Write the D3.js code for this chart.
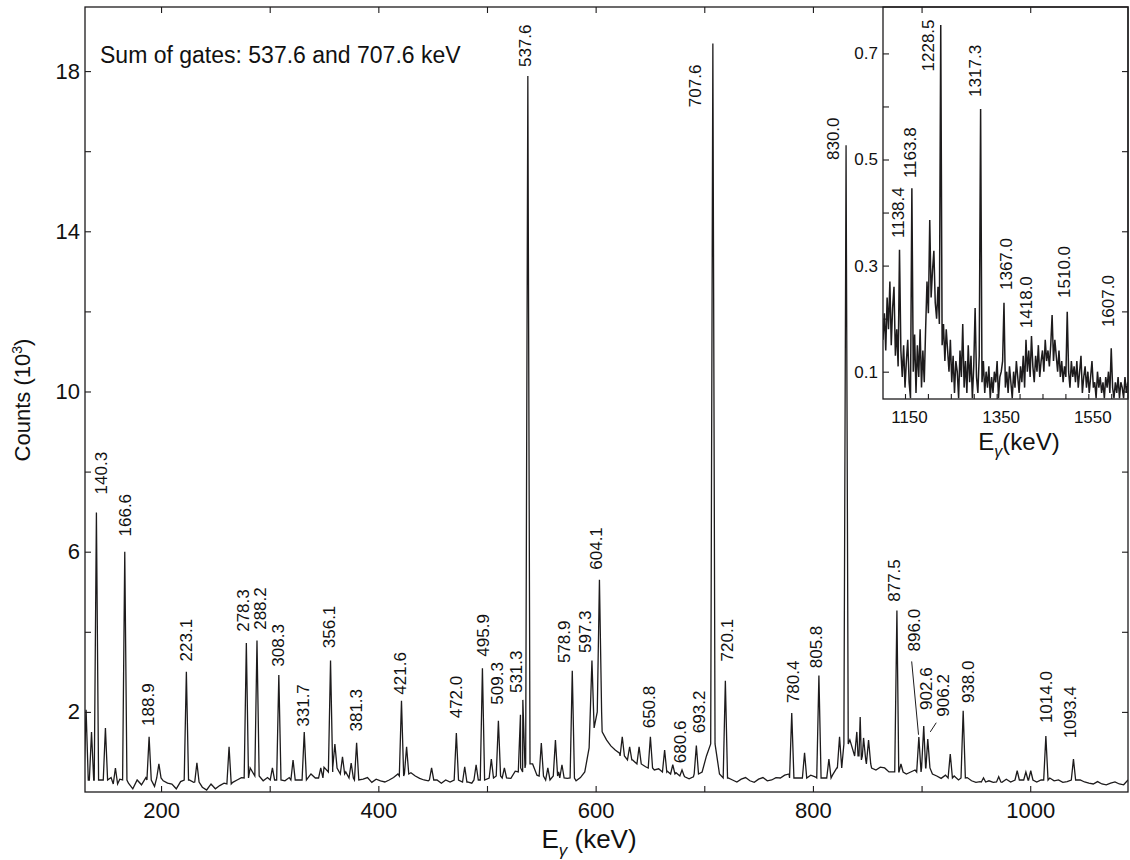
<!DOCTYPE html>
<html lang="en">
<head>
  <meta charset="utf-8">
  <title>Sum of gates spectrum</title>
  <script src="https://d3js.org/d3.v7.min.js"></script>
  <style>
    body { margin: 0; background: #fff; }
    svg text { font-family: "Liberation Sans", Arial, sans-serif; fill: #111; }
  </style>
</head>
<body>
<div id="chart"></div>
<script>
"use strict"

// ---- main spectrum ----
// background counts (10^3), one value every 4 keV starting at 130 keV
var bgStart = 130, bgStep = 4;
var bgCounts = [
  0.35,0.28,0.42,0.45,0.3,0.18,0.36,0.1,0.32,0.4,
  0.22,0.08,0.3,0.18,0.36,0.3,0.14,0.4,0.28,0.22,
  0.2,0.08,0.26,0.34,0.3,0.24,0.18,0.12,0.05,0.2,
  0.08,0.16,0.22,0.3,0.24,0.3,0.36,0.4,0.6,0.5,
  0.5,0.28,0.36,0.24,0.45,0.34,0.28,0.36,0.45,0.3,
  0.35,0.28,0.45,0.35,0.5,0.62,0.55,0.72,0.62,0.58,
  0.5,0.38,0.4,0.28,0.32,0.36,0.24,0.32,0.28,0.25,
  0.3,0.36,0.45,0.6,0.6,0.48,0.4,0.34,0.3,0.28,
  0.45,0.3,0.22,0.3,0.25,0.3,0.32,0.36,0.25,0.22,
  0.3,0.36,0.4,0.28,0.46,0.38,0.5,0.45,0.34,0.52,
  0.9,0.9,0.9,0.7,0.42,0.34,0.28,0.42,0.45,0.5,
  0.4,0.34,0.3,0.28,0.36,0.5,1.1,2.0,2.0,1.5,
  1.3,1.15,1.05,0.97,0.9,0.85,0.8,0.72,0.68,0.63,
  0.6,0.55,0.58,0.5,0.52,0.46,0.48,0.4,0.38,0.33,
  0.38,0.4,0.5,0.9,1.6,0.8,0.45,0.35,0.35,0.3,
  0.25,0.32,0.36,0.28,0.24,0.32,0.36,0.28,0.3,0.36,
  0.35,0.42,0.45,0.38,0.35,0.5,0.34,0.42,0.38,0.45,
  0.35,0.5,0.42,0.6,0.8,1.4,1.3,1.0,0.9,0.8,
  0.8,0.6,0.55,0.62,0.6,0.5,0.5,0.6,0.5,0.45,
  0.5,0.55,0.6,0.7,0.6,0.45,0.4,0.34,0.42,0.35,
  0.4,0.3,0.3,0.36,0.28,0.24,0.26,0.32,0.28,0.24,
  0.3,0.24,0.32,0.25,0.3,0.35,0.28,0.36,0.3,0.25,
  0.3,0.3,0.35,0.28,0.3,0.24,0.26,0.3,0.24,0.3,
  0.25,0.22,0.2,0.26,0.2,0.18,0.22,0.25,0.2,0.18,
  0.3
];

// peaks: [position (keV), height, base level]  (10^3 counts)
var peaks = [
  [131, 2.05, 0.3], [136, 1.5, 0.3], [140.5, 6.98, 0.3], [148.8, 1.6, 0.3],
  [158, 0.6, 0.2], [166.6, 6.0, 0.3], [189, 1.38, 0.3], [198, 0.7, 0.35],
  [223.3, 3.0, 0.3], [233, 0.73, 0.25], [262.6, 1.13, 0.2], [278.5, 3.72, 0.35],
  [288.3, 3.78, 0.4], [302.5, 0.6, 0.3], [308.4, 2.92, 0.3], [321.5, 0.8, 0.3],
  [331.8, 1.5, 0.3], [347, 0.6, 0.35], [356, 3.28, 0.5], [360, 1.2, 0.6],
  [367, 0.88, 0.45], [375, 0.72, 0.35], [380, 1.23, 0.3], [421.3, 2.28, 0.4],
  [426, 1.13, 0.45], [449, 0.6, 0.3], [471.8, 1.47, 0.3], [479.5, 0.63, 0.25],
  [490, 0.68, 0.3], [495.8, 3.09, 0.3], [504, 0.82, 0.35], [510.5, 1.78, 0.4],
  [516, 0.6, 0.35], [530.8, 1.93, 0.5], [533, 2.3, 0.6], [537.6, 17.88, 0.7],
  [550, 1.22, 0.4], [556, 0.6, 0.3], [563, 1.3, 0.4], [569, 0.68, 0.35],
  [578.5, 3.03, 0.35], [596.6, 3.28, 1.6], [603.5, 5.3, 2.0], [624.5, 1.38, 0.9],
  [631.3, 1.13, 0.8], [640, 1.13, 0.7], [650.4, 1.38, 0.6], [663.5, 1.05, 0.5],
  [671, 0.68, 0.45], [679.5, 0.55, 0.4], [692.7, 1.16, 0.45], [707.9, 18.69, 1.2],
  [719.4, 2.78, 0.35], [780.5, 1.97, 0.35], [792.3, 0.98, 0.35], [805.5, 2.91, 0.35],
  [814.7, 0.82, 0.35], [824.5, 1.38, 0.6], [830.5, 16.15, 1.2], [840.4, 1.5, 0.9],
  [843.5, 1.87, 0.9], [846.6, 1.35, 0.8], [851.2, 1.3, 0.7], [877.3, 4.53, 0.5],
  [881, 0.7, 0.5], [897.5, 1.37, 0.5], [902, 1.65, 0.6], [905.7, 1.32, 0.6],
  [926.4, 0.95, 0.35], [938.3, 2.03, 0.35], [957, 0.35, 0.25], [971, 0.38, 0.25],
  [988, 0.53, 0.3], [996, 0.5, 0.3], [1000.5, 0.53, 0.3], [1014.4, 1.4, 0.3],
  [1039.8, 0.82, 0.3]
];

// labels: [text, centre (keV), bottom of text (10^3 counts)]
var mainLabels = [
  ["140.3", 145.2, 7.43], ["166.6", 166.6, 6.38], ["188.9", 188.1, 1.65],
  ["223.1", 222.7, 3.26], ["278.3", 275.5, 4.0], ["288.2", 290.8, 4.05],
  ["308.3", 307.7, 3.13], ["331.7", 330.7, 1.63], ["356.1", 354.6, 3.59],
  ["381.3", 379.2, 1.51], ["421.6", 420.3, 2.43], ["472.0", 471.8, 1.84],
  ["495.9", 496.3, 3.38], ["509.3", 509.2, 2.18], ["531.3", 527, 2.47],
  ["537.6", 534.7, 18.1], ["578.9", 570.6, 3.22], ["597.3", 590.5, 3.47],
  ["604.1", 600.6, 5.55], ["650.8", 648.8, 1.59], ["680.6", 678, 0.72],
  ["693.2", 694.8, 1.47], ["707.6", 691.1, 17.1], ["720.1", 720.8, 3.26],
  ["780.4", 781.5, 2.22], ["805.8", 803.1, 3.09], ["830.0", 818.3, 15.78],
  ["877.5", 875.1, 4.75], ["896.0", 893.5, 3.51], ["902.6", 904.3, 2.05],
  ["906.2", 920.2, 1.88], ["938.0", 942.6, 2.22], ["1014.0", 1014.7, 1.72],
  ["1093.4", 1037, 1.34]
];

// leader lines from label to peak: [[keV, counts], [keV, counts]]
var leaders = [
  [[890.9, 3.26], [897.2, 1.43]],
  [[913.5, 1.73], [908, 1.5]]
];

var xTicks = [200, 300, 400, 500, 600, 700, 800, 900, 1000];
var xTickLabels = [200, 400, 600, 800, 1000];
var yTicks = [2, 4, 6, 8, 10, 12, 14, 16, 18];
var yTickLabels = [2, 6, 10, 14, 18];

// ---- inset (high energy part) ----
// counts (10^3), one value every 3 keV starting at 1102 keV
var insetStart = 1102, insetStep = 3;
var insetCounts = [
  0.16,0.21,0.14,0.24,0.18,0.27,0.15,0.22,0.26,0.13,
  0.18,0.11,0.33,0.14,0.09,0.15,0.07,0.12,0.16,0.08,
  0.05,0.446,0.1,0.17,0.06,0.15,0.09,0.18,0.07,0.14,
  0.08,0.18,0.27,0.21,0.386,0.24,0.29,0.328,0.23,0.2,
  0.26,0.19,0.7535,0.15,0.19,0.12,0.18,0.14,0.1,0.16,
  0.08,0.13,0.06,0.12,0.1,0.05,0.14,0.09,0.19,0.07,
  0.12,0.06,0.15,0.08,0.13,0.05,0.11,0.22,0.09,0.06,
  0.13,0.595,0.08,0.12,0.06,0.1,0.07,0.11,0.05,0.09,
  0.06,0.1,0.08,0.12,0.05,0.09,0.1,0.12,0.23,0.07,
  0.1,0.06,0.11,0.08,0.05,0.1,0.07,0.12,0.09,0.06,
  0.11,0.08,0.13,0.07,0.16,0.1,0.14,0.09,0.167,0.11,
  0.08,0.13,0.1,0.15,0.09,0.12,0.14,0.1,0.16,0.12,
  0.14,0.11,0.15,0.207,0.12,0.16,0.13,0.1,0.14,0.09,
  0.12,0.08,0.11,0.09,0.213,0.1,0.07,0.12,0.09,0.11,
  0.08,0.12,0.07,0.1,0.13,0.06,0.09,0.11,0.07,0.1,
  0.06,0.09,0.12,0.07,0.08,0.05,0.1,0.07,0.09,0.06,
  0.08,0.05,0.09,0.07,0.1,0.06,0.144,0.07,0.05,0.08,
  0.06,0.09,0.05,0.08,0.07,0.05,0.09,0.06,0.08,0.07
];

var insetLabels = [
  ["1138.4", 1134.1, 0.352], ["1163.8", 1160.9, 0.465], ["1228.5", 1200.8, 0.666],
  ["1317.3", 1302.7, 0.618], ["1367.0", 1369.7, 0.254], ["1418.0", 1413.4, 0.182],
  ["1510.0", 1497, 0.239], ["1607.0", 1593.6, 0.184]
];

var insetXTicks = [1150, 1200, 1250, 1300, 1350, 1400, 1450, 1500, 1550, 1600];
var insetXTickLabels = [1150, 1350, 1550];
var insetYTicks = [0.1, 0.2, 0.3, 0.4, 0.5, 0.6, 0.7];
var insetYTickLabels = [0.1, 0.3, 0.5, 0.7];

// ---- drawing ----
var W = 1130, H = 860;
var plot = {left: 85, right: 1128, top: 7, bottom: 792};
var ink = "#1d1b1c";

var svg = d3.select("#chart").append("svg")
  .attr("width", W).attr("height", H);

var x = d3.scaleLinear().domain([130, 1090]).range([plot.left, plot.right]);
var y = d3.scaleLinear().domain([0, 19.6]).range([plot.bottom, plot.top]);

svg.append("clipPath").attr("id", "clipMain")
  .append("rect")
  .attr("x", plot.left).attr("y", plot.top)
  .attr("width", plot.right - plot.left).attr("height", plot.bottom - plot.top);

// build spectrum points: background outside peaks + a narrow triangle per peak
var halfW = 2;
var spec = [];
bgCounts.forEach(function(v, i) {
  var e = bgStart + i * bgStep;
  var inPeak = peaks.some(function(p) { return Math.abs(p[0] - e) < halfW + 0.5; });
  if (!inPeak) spec.push([e, v]);
});
peaks.forEach(function(p) {
  spec.push([p[0] - halfW, p[2]], [p[0], p[1]], [p[0] + halfW, p[2]]);
});
spec.sort(function(a, b) { return a[0] - b[0]; });

var line = d3.line().x(d => x(d[0])).y(d => y(d[1]));

svg.append("path")
  .datum(spec)
  .attr("clip-path", "url(#clipMain)")
  .attr("d", line)
  .attr("fill", "none")
  .attr("stroke", ink)
  .attr("stroke-width", 1.3);

svg.selectAll("line.leader")
  .data(leaders)
  .enter().append("line")
  .attr("class", "leader")
  .attr("x1", d => x(d[0][0])).attr("y1", d => y(d[0][1]))
  .attr("x2", d => x(d[1][0])).attr("y2", d => y(d[1][1]))
  .attr("stroke", ink).attr("stroke-width", 1);

svg.selectAll("text.plabel")
  .data(mainLabels)
  .enter().append("text")
  .attr("class", "plabel")
  .attr("transform", d => "translate(" + x(d[1]) + "," + y(d[2]) + ") rotate(-90)")
  .attr("dy", "0.35em")
  .style("font-size", "17px")
  .text(d => d[0]);

// ---- inset ----
var inset = {left: 883, right: 1128, top: 7, bottom: 399};
var xi = d3.scaleLinear().domain([1102, 1636.6]).range([inset.left, inset.right]);
var yi = d3.scaleLinear().domain([0.0485, 0.7875]).range([inset.bottom, inset.top]);

svg.append("rect")
  .attr("x", inset.left).attr("y", inset.top)
  .attr("width", inset.right - inset.left).attr("height", inset.bottom - inset.top)
  .attr("fill", "#fff");

svg.append("clipPath").attr("id", "clipInset")
  .append("rect")
  .attr("x", inset.left).attr("y", inset.top)
  .attr("width", inset.right - inset.left).attr("height", inset.bottom - inset.top);

var lineInset = d3.line()
  .x((d, i) => xi(insetStart + i * insetStep))
  .y(d => yi(d));

svg.append("path")
  .datum(insetCounts)
  .attr("clip-path", "url(#clipInset)")
  .attr("d", lineInset)
  .attr("fill", "none")
  .attr("stroke", ink)
  .attr("stroke-width", 1.5);

svg.selectAll("text.ilabel")
  .data(insetLabels)
  .enter().append("text")
  .attr("class", "ilabel")
  .attr("transform", d => "translate(" + xi(d[1]) + "," + yi(d[2]) + ") rotate(-90)")
  .attr("dy", "0.35em")
  .style("font-size", "17px")
  .text(d => d[0]);

function styleAxis(g, size) {
  g.select(".domain").remove();
  g.selectAll("line").attr("stroke", ink).attr("stroke-width", 1.1);
  g.selectAll("text").style("font-size", size).attr("fill", "#111")
    .style("font-family", "'Liberation Sans', Arial, sans-serif");
  g.attr("font-family", null).attr("font-size", null);
}

svg.append("g")
  .attr("transform", "translate(0," + inset.bottom + ")")
  .call(d3.axisBottom(xi).tickValues(insetXTicks).tickSize(-5).tickPadding(12)
    .tickFormat(d => insetXTickLabels.indexOf(d) >= 0 ? d : ""))
  .call(g => styleAxis(g, "17px"))
  .call(g => g.selectAll("text").attr("dx", 4));

svg.append("g")
  .attr("transform", "translate(" + inset.left + ",0)")
  .call(d3.axisLeft(yi).tickValues(insetYTicks).tickSize(-6).tickPadding(5)
    .tickFormat(d => insetYTickLabels.indexOf(d) >= 0 ? d3.format(".1f")(d) : ""))
  .call(g => styleAxis(g, "17px"));

svg.append("rect")
  .attr("x", inset.left).attr("y", inset.top)
  .attr("width", inset.right - inset.left).attr("height", inset.bottom - inset.top)
  .attr("fill", "none").attr("stroke", ink).attr("stroke-width", 1.3);

var insetTitle = svg.append("text")
  .attr("x", 1019).attr("y", 450)
  .attr("text-anchor", "middle")
  .style("font-size", "24px");
insetTitle.append("tspan").text("E");
insetTitle.append("tspan").attr("dy", 7).style("font-size", "16px")
  .style("font-style", "italic").text("γ");
insetTitle.append("tspan").attr("dy", -7).text("(keV)");

// ---- main axes and frame ----
svg.append("g")
  .attr("transform", "translate(0," + plot.bottom + ")")
  .call(d3.axisBottom(x).tickValues(xTicks).tickSize(-6).tickPadding(10)
    .tickFormat(d => xTickLabels.indexOf(d) >= 0 ? d : ""))
  .call(g => styleAxis(g, "22px"));

svg.append("g")
  .attr("transform", "translate(0," + plot.top + ")")
  .call(d3.axisTop(x).tickValues(xTicks).tickSize(-6).tickFormat(""))
  .call(g => styleAxis(g, "22px"));

svg.append("g")
  .attr("transform", "translate(" + plot.left + ",0)")
  .call(d3.axisLeft(y).tickValues(yTicks).tickSize(-6).tickPadding(5)
    .tickFormat(d => yTickLabels.indexOf(d) >= 0 ? d : ""))
  .call(g => styleAxis(g, "22px"));

svg.append("g")
  .attr("transform", "translate(" + plot.right + ",0)")
  .call(d3.axisRight(y).tickValues(yTicks).tickSize(-6).tickFormat(""))
  .call(g => styleAxis(g, "22px"));

svg.append("rect")
  .attr("x", plot.left).attr("y", plot.top)
  .attr("width", plot.right - plot.left).attr("height", plot.bottom - plot.top)
  .attr("fill", "none").attr("stroke", ink).attr("stroke-width", 1.3);

svg.append("text")
  .attr("x", 100).attr("y", 63)
  .style("font-size", "23px")
  .text("Sum of gates: 537.6 and 707.6 keV");

var xTitle = svg.append("text")
  .attr("x", 589).attr("y", 848)
  .attr("text-anchor", "middle")
  .style("font-size", "26px");
xTitle.append("tspan").text("E");
xTitle.append("tspan").attr("dy", 8).style("font-size", "17px")
  .style("font-style", "italic").text("γ");
xTitle.append("tspan").attr("dy", -8).text(" (keV)");

var yTitle = svg.append("text")
  .attr("transform", "translate(30,400) rotate(-90)")
  .attr("text-anchor", "middle")
  .style("font-size", "22px");
yTitle.append("tspan").text("Counts (10");
yTitle.append("tspan").attr("dy", -8).style("font-size", "14px").text("3");
yTitle.append("tspan").attr("dy", 8).text(")");
</script>
</body>
</html>
